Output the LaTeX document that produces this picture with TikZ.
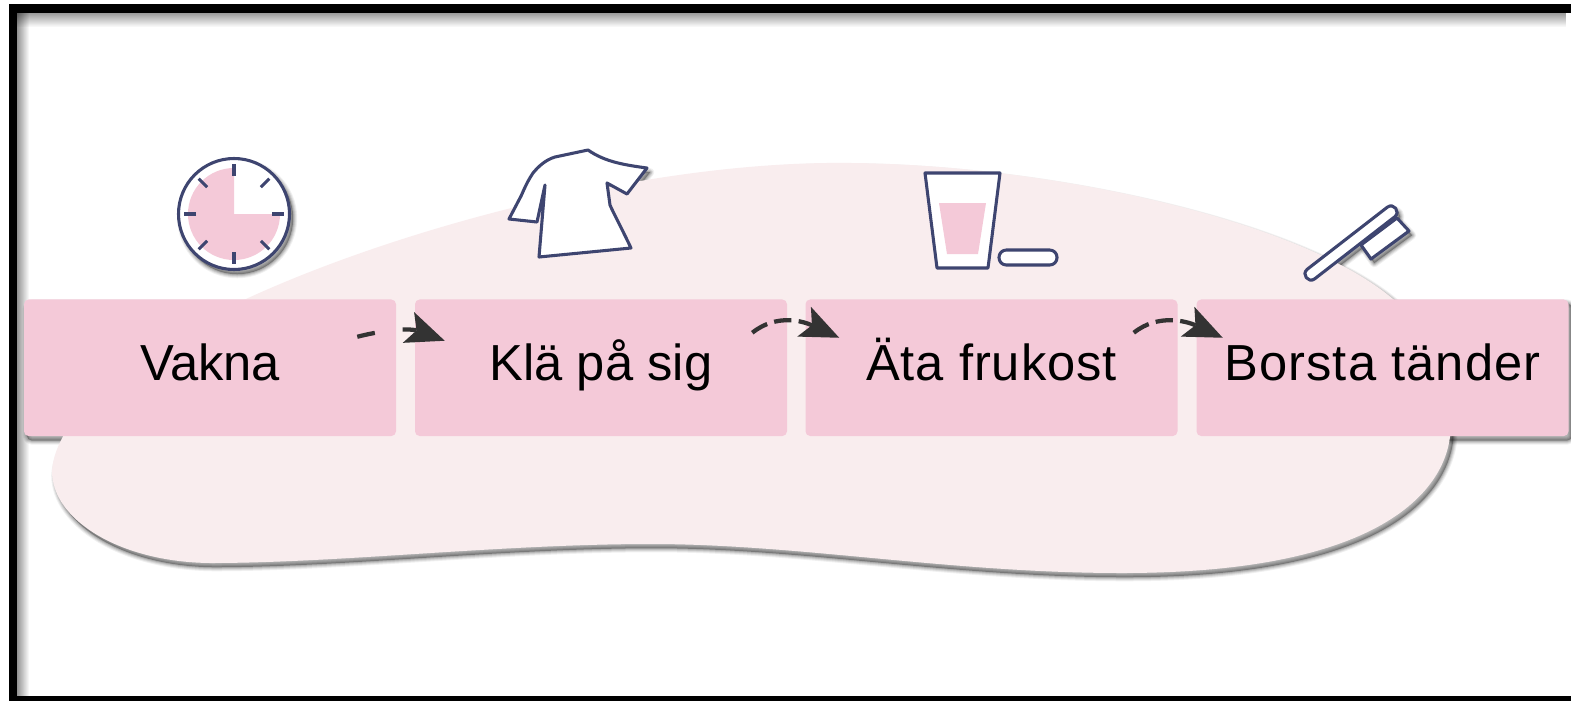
\documentclass[tikz,border=0pt]{standalone}
\usepackage{fontspec}
\setmainfont{Liberation Sans}
\usetikzlibrary{arrows.meta,calc,backgrounds,fadings}
\tikzfading[name=edgefaderight,left color=transparent!0,right color=transparent!100]
\tikzfading[name=edgefadedown,top color=transparent!0,bottom color=transparent!100]
\pgfdeclarelayer{shadowlayer}
\pgfdeclarelayer{bloblayer}
\pgfsetlayers{shadowlayer,bloblayer,main}
\definecolor{boxpink}{HTML}{F4C9D8}
\definecolor{blobpink}{HTML}{F9EDEE}
\definecolor{inkblue}{HTML}{3E4570}
\definecolor{arrowgray}{HTML}{333333}
\tikzset{
  x=0.75pt, y=-0.75pt,
  softshadow/.style={
    preaction={draw=black,draw opacity=.06,line width=6pt,line join=round,transform canvas={shift={(2.4pt,-3.2pt)}}},
    preaction={draw=black,draw opacity=.08,line width=4.5pt,line join=round,transform canvas={shift={(2.4pt,-3.2pt)}}},
    preaction={draw=black,draw opacity=.10,line width=3pt,line join=round,transform canvas={shift={(2.4pt,-3.2pt)}}},
    preaction={draw=black,fill=black,draw opacity=.12,fill opacity=.3,line width=1.5pt,line join=round,transform canvas={shift={(2.4pt,-3.2pt)}}}},
  stepbox/.style={fill=boxpink,rounded corners=3.5pt,minimum width=279pt,minimum height=102.4pt,
    inner sep=0pt,text height=30pt,text depth=10.5pt,font=\fontsize{38}{42}\selectfont,text=black},
  icon/.style={draw=inkblue,fill=white,line width=2.3pt,line join=round},
  tick/.style={draw=inkblue,line width=2.3pt},
  flow/.style={draw=arrowgray,line width=3.2pt,-{Stealth[quick,length=29pt,width=24.6pt,inset=6.5pt,line width=0pt]}},
}
\def\blobpath{(52,471) .. controls (55,420) and (130,345) .. (246,299)
  .. controls (400,228) and (650,160) .. (852,163)
  .. controls (1050,165) and (1300,220) .. (1393,299)
  .. controls (1432,335) and (1453,395) .. (1450,437)
  .. controls (1443,490) and (1383,573) .. (1122,573)
  .. controls (950,573) and (800,544) .. (651,544)
  .. controls (500,544) and (340,563) .. (210,563)
  .. controls (120,562) and (52,520) .. (52,471) -- cycle}
\def\shirtpath{(588,150) -- (555,157) .. controls (545,160) and (538,167) .. (533,173)
  .. controls (525,185) and (522,195) .. (520,198) -- (509,219) -- (537,222) -- (545,185) -- (539,257) -- (631,248)
  .. controls (620,225) and (612,210) .. (610,205) -- (607,183) -- (627,194) -- (647,168)
  .. controls (625,165) and (605,162) .. (588,150) -- cycle}
\def\glasspath{(925,173) -- (1000,173) -- (988,268) -- (937,268) -- cycle}
\def\pillpath{(999,250) rectangle (1057,265)}
\def\headpath{(1397,218) -- (1409,231) -- (1371,259) -- (1361,245) -- cycle}
\def\handlepath{(1307.3,269.2) -- (1387.3,207.2) .. controls (1393.6,202.3) and (1401,211.9) .. (1394.7,216.8) -- (1314.7,278.8) .. controls (1308.4,283.7) and (1301,274.1) .. (1307.3,269.2) -- cycle}
\begin{document}
\begin{tikzpicture}
\useasboundingbox (0,0) rectangle (1571,701);
% step boxes
\node[stepbox] (vakna) at (210,367.75) {Vakna};
\node[stepbox] (kla) at (601,367.75) {Klä på sig};
\node[stepbox] (ata) at (991.5,367.75) {\addfontfeature{LetterSpace=1.8}Äta frukost};
\node[stepbox] (borsta) at (1382.5,367.75) {\addfontfeature{LetterSpace=2.1}Borsta tänder};
% shadows beneath the blob
\begin{pgfonlayer}{shadowlayer}
  \fill[white] (0,0) rectangle (1571,701);
  \fill[black,fill opacity=.42,path fading=edgefaderight] (17,12) rectangle (29,696);
  \fill[black,fill opacity=.42,path fading=edgefadedown] (17,12) rectangle (1571,27);
  \path[softshadow] \blobpath;
  \foreach \n in {vakna,kla,ata,borsta}
    \path[softshadow,rounded corners=3.5pt] (\n.north west) rectangle (\n.south east);
  \path[softshadow] (234,214) circle[radius=56];
  \path[softshadow] \shirtpath;
  \path[softshadow] \headpath;
  \path[softshadow] \handlepath;
\end{pgfonlayer}
\begin{pgfonlayer}{bloblayer}
  \fill[blobpink] \blobpath;
\end{pgfonlayer}
% clock
\draw[icon] (234,214) circle[radius=55.5];
\fill[boxpink] (234,214) -- (234,168) arc[start angle=-90,end angle=-360,radius=46] -- cycle;
\foreach \a in {0,45,...,315}
  \draw[tick] ($(234,214)+(\a:38)$) -- ($(234,214)+(\a:50)$);
% shirt
\draw[icon] \shirtpath;
% glass and pill
\draw[icon] \glasspath;
\fill[boxpink] (939,203) -- (986,203) -- (978,254) -- (947,254) -- cycle;
\draw[icon,rounded corners=5.5pt] \pillpath;
% toothbrush
\draw[icon] \headpath;
\draw[icon] \handlepath;
% connectors
\coordinate (a1) at ($(vakna.east)+(-39,-31)$);
\coordinate (a2) at ($(kla.west)+(30,-27)$);
\coordinate (b1) at ($(kla.east)+(-35,-35)$);
\coordinate (b2) at ($(ata.west)+(34,-30)$);
\coordinate (c1) at ($(ata.east)+(-44,-35)$);
\coordinate (c2) at ($(borsta.west)+(26.5,-30)$);
\draw[flow,dash pattern=on 13.5pt off 21pt] (a1) .. controls +(40,-10) and +(-30,-11) .. (a2);
\draw[flow,dash pattern=on 13pt off 5.5pt] (b1) .. controls +(25,-20) and +(-35,-16) .. (b2);
\draw[flow,dash pattern=on 13pt off 5.5pt] (c1) .. controls +(25,-20) and +(-35,-16) .. (c2);
% frame
\fill[black] (9.3,4.3) rectangle (1571,12.7);
\fill[black] (9.3,4.3) rectangle (17.3,701);
\fill[black] (9.3,695.5) rectangle (1571,701);
\end{tikzpicture}
\end{document}
